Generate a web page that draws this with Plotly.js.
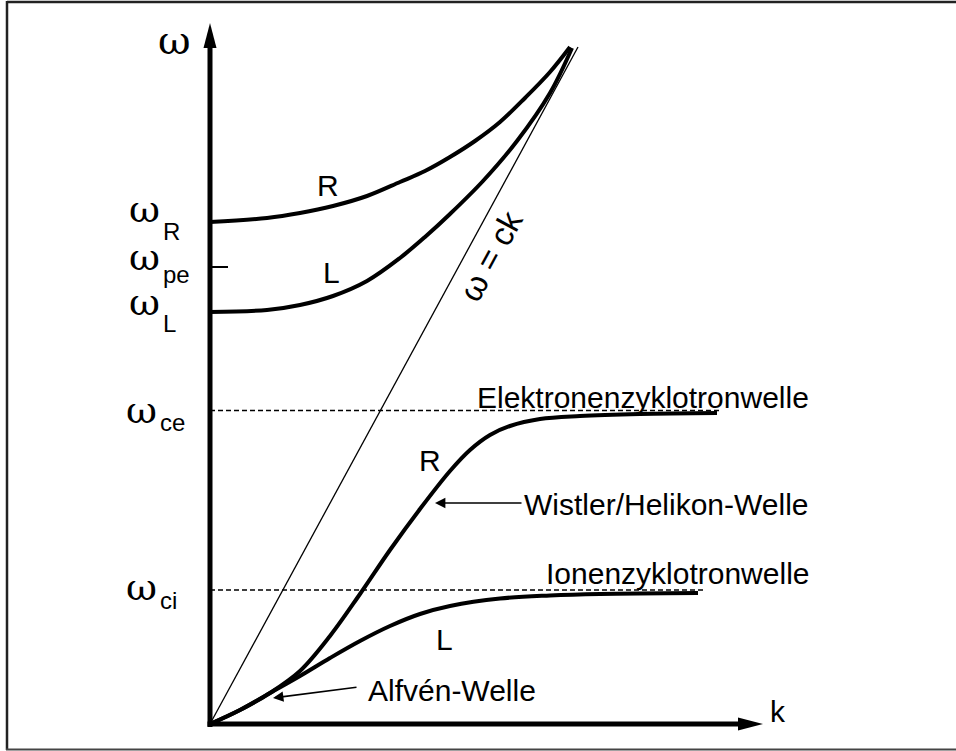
<!DOCTYPE html>
<html>
<head>
<meta charset="utf-8">
<script src="https://cdn.plot.ly/plotly-3.0.1.min.js"></script>
<style>html,body{margin:0;padding:0;background:#fff;}#chart{width:956px;height:751px;}</style>
</head>
<body>
<div id="chart"></div>
<script>
// ---- data (k, omega in schematic units) ----
const kUpperR = [0, 0.57, 0.9, 1.23, 1.57, 1.9, 2.15, 2.4, 2.65, 2.9, 3.15, 3.4, 3.6];
const wUpperR = [5.02, 5.06, 5.11, 5.18, 5.28, 5.42, 5.53, 5.67, 5.83, 6.02, 6.26, 6.52, 6.77];

const kUpperL = [0, 0.57, 0.9, 1.23, 1.57, 1.9, 2.15, 2.4, 2.73, 3.07, 3.4, 3.62];
const wUpperL = [4.12, 4.14, 4.19, 4.28, 4.43, 4.66, 4.87, 5.10, 5.43, 5.83, 6.31, 6.76];

const kLowerR = [0, 0.3, 0.6, 0.9, 1.2, 1.5, 1.8, 2.1, 2.4, 2.6, 2.8, 3.0, 3.3, 3.7, 4.3, 5.07];
const wLowerR = [0, 0.14, 0.31, 0.53, 0.88, 1.30, 1.74, 2.15, 2.53, 2.74, 2.89, 2.98, 3.05, 3.08, 3.10, 3.11];

const kLowerL = [0, 0.3, 0.6, 0.9, 1.2, 1.5, 1.8, 2.1, 2.4, 2.9, 3.4, 3.9, 4.88];
const wLowerL = [0, 0.14, 0.31, 0.48, 0.66, 0.83, 0.98, 1.10, 1.18, 1.255, 1.285, 1.30, 1.31];

const kLight = [0, 3.68];
const wLight = [0, 6.77];

const wR = 5.02, wPe = 4.57, wL = 4.12, wCe = 3.135, wCi = 1.34;
const kCeEnd = 5.12, kCiEnd = 4.93;

const tickLabels = [
  {sym: 'ω', sub: 'R'},
  {sym: 'ω', sub: 'pe'},
  {sym: 'ω', sub: 'L'},
  {sym: 'ω', sub: 'ce'},
  {sym: 'ω', sub: 'ci'}
];
const waveLabels = ['Elektronenzyklotronwelle', 'Wistler/Helikon-Welle', 'Ionenzyklotronwelle', 'Alfvén-Welle'];

// ---- drawing ----
const SANS = 'Liberation Sans, Arial, sans-serif';
const SERIF = 'DejaVu Serif, serif';
const thick = {color: '#000', width: 4, shape: 'spline', smoothing: 1.0};

const traces = [
  {x: kUpperR, y: wUpperR, mode: 'lines', line: thick},
  {x: kUpperL, y: wUpperL, mode: 'lines', line: thick},
  {x: kLowerR, y: wLowerR, mode: 'lines', line: thick},
  {x: kLowerL, y: wLowerL, mode: 'lines', line: thick},
  {x: kLight, y: wLight, mode: 'lines', line: {color: '#000', width: 1.3}},
  {x: [0, kCeEnd], y: [wCe, wCe], mode: 'lines', line: {color: '#000', width: 1.4, dash: '5px,3px'}},
  {x: [0, kCiEnd], y: [wCi, wCi], mode: 'lines', line: {color: '#000', width: 1.4, dash: '5px,3px'}}
];

const shapes = [
  // frame
  {type: 'line', xref: 'paper', yref: 'paper', x0: 7/956, x1: 1.01, y0: 1 - 2/751, y1: 1 - 2/751, line: {color: '#222', width: 2.5}},
  {type: 'line', xref: 'paper', yref: 'paper', x0: 7/956, x1: 7/956, y0: 1 - 1/751, y1: 1 - 750/751, line: {color: '#222', width: 2.5}},
  {type: 'line', xref: 'paper', yref: 'paper', x0: 6/956, x1: 1.01, y0: 1 - 749.5/751, y1: 1 - 749.5/751, line: {color: '#444', width: 2}},
  // axes
  {type: 'line', xref: 'x', yref: 'y', x0: 0, x1: 0, y0: -0.03, y1: 6.85, line: {color: '#000', width: 5}},
  {type: 'line', xref: 'x', yref: 'y', x0: -0.025, x1: 5.35, y0: 0, y1: 0, line: {color: '#000', width: 5}},
  {type: 'path', xref: 'x', yref: 'y', path: 'M -0.065,6.76 L 0.065,6.76 L 0,7.01 Z', fillcolor: '#000', line: {width: 0}},
  {type: 'path', xref: 'x', yref: 'y', path: 'M 5.28,-0.065 L 5.28,0.065 L 5.53,0 Z', fillcolor: '#000', line: {width: 0}},
  // omega_pe tick
  {type: 'line', xref: 'x', yref: 'y', x0: 0, x1: 0.18, y0: wPe, y1: wPe, line: {color: '#000', width: 2}}
];

function txt(x, y, text, size, family, xanchor, extra) {
  return Object.assign({x: x, y: y, xref: 'x', yref: 'y', text: text, showarrow: false,
    font: {family: family, size: size, color: '#000'}, xanchor: xanchor || 'center', yanchor: 'middle'}, extra || {});
}

const OMT = 40, OM = 38, SUB = 24, LAB = 30;
const annotations = [
  // axis labels
  txt(-0.36, 6.84, 'ω', OMT, SERIF),
  txt(5.68, 0.13, 'k', LAB, SANS),
  // tick labels
  txt(-0.66, 5.15, tickLabels[0].sym, OM, SERIF), txt(-0.49, 4.93, tickLabels[0].sub, SUB, SANS, 'left'),
  txt(-0.66, 4.67, tickLabels[1].sym, OM, SERIF), txt(-0.49, 4.50, tickLabels[1].sub, SUB, SANS, 'left'),
  txt(-0.66, 4.22, tickLabels[2].sym, OM, SERIF), txt(-0.49, 4.01, tickLabels[2].sub, SUB, SANS, 'left'),
  txt(-0.69, 3.14, tickLabels[3].sym, OM, SERIF), txt(-0.52, 3.02, tickLabels[3].sub, SUB, SANS, 'left'),
  txt(-0.69, 1.37, tickLabels[4].sym, OM, SERIF), txt(-0.52, 1.24, tickLabels[4].sub, SUB, SANS, 'left'),
  // curve labels
  txt(1.18, 5.39, 'R', LAB, SANS),
  txt(1.21, 4.52, 'L', LAB, SANS),
  txt(2.20, 2.64, 'R', LAB, SANS),
  txt(2.34, 0.85, 'L', LAB, SANS),
  txt(2.80, 4.68, 'ω = ck', 33, SANS, 'center', {textangle: -61.5}),
  // wave names
  txt(6.01, 3.27, waveLabels[0], LAB, SANS, 'right'),
  txt(6.01, 2.20, waveLabels[1], LAB, SANS, 'right'),
  txt(6.01, 1.51, waveLabels[2], LAB, SANS, 'right'),
  txt(1.56, 0.34, waveLabels[3], LAB, SANS, 'left'),
  // arrows
  {x: 2.25, y: 2.21, ax: 3.13, ay: 2.21, xref: 'x', yref: 'y', axref: 'x', ayref: 'y', text: '',
   showarrow: true, arrowhead: 2, arrowwidth: 1.6, arrowsize: 1.3, arrowcolor: '#000'},
  {x: 0.63, y: 0.26, ax: 1.48, ay: 0.37, xref: 'x', yref: 'y', axref: 'x', ayref: 'y', text: '',
   showarrow: true, arrowhead: 2, arrowwidth: 1.6, arrowsize: 1.3, arrowcolor: '#000'}
];

const layout = {
  width: 956, height: 751,
  margin: {l: 0, r: 0, t: 0, b: 0, pad: 0},
  paper_bgcolor: '#fff', plot_bgcolor: '#fff',
  showlegend: false,
  xaxis: {range: [-2.10, 7.46], visible: false, fixedrange: true},
  yaxis: {range: [-0.27, 7.24], visible: false, fixedrange: true},
  shapes: shapes,
  annotations: annotations
};

Plotly.newPlot('chart', traces, layout, {staticPlot: true, displayModeBar: false});
</script>
</body>
</html>
